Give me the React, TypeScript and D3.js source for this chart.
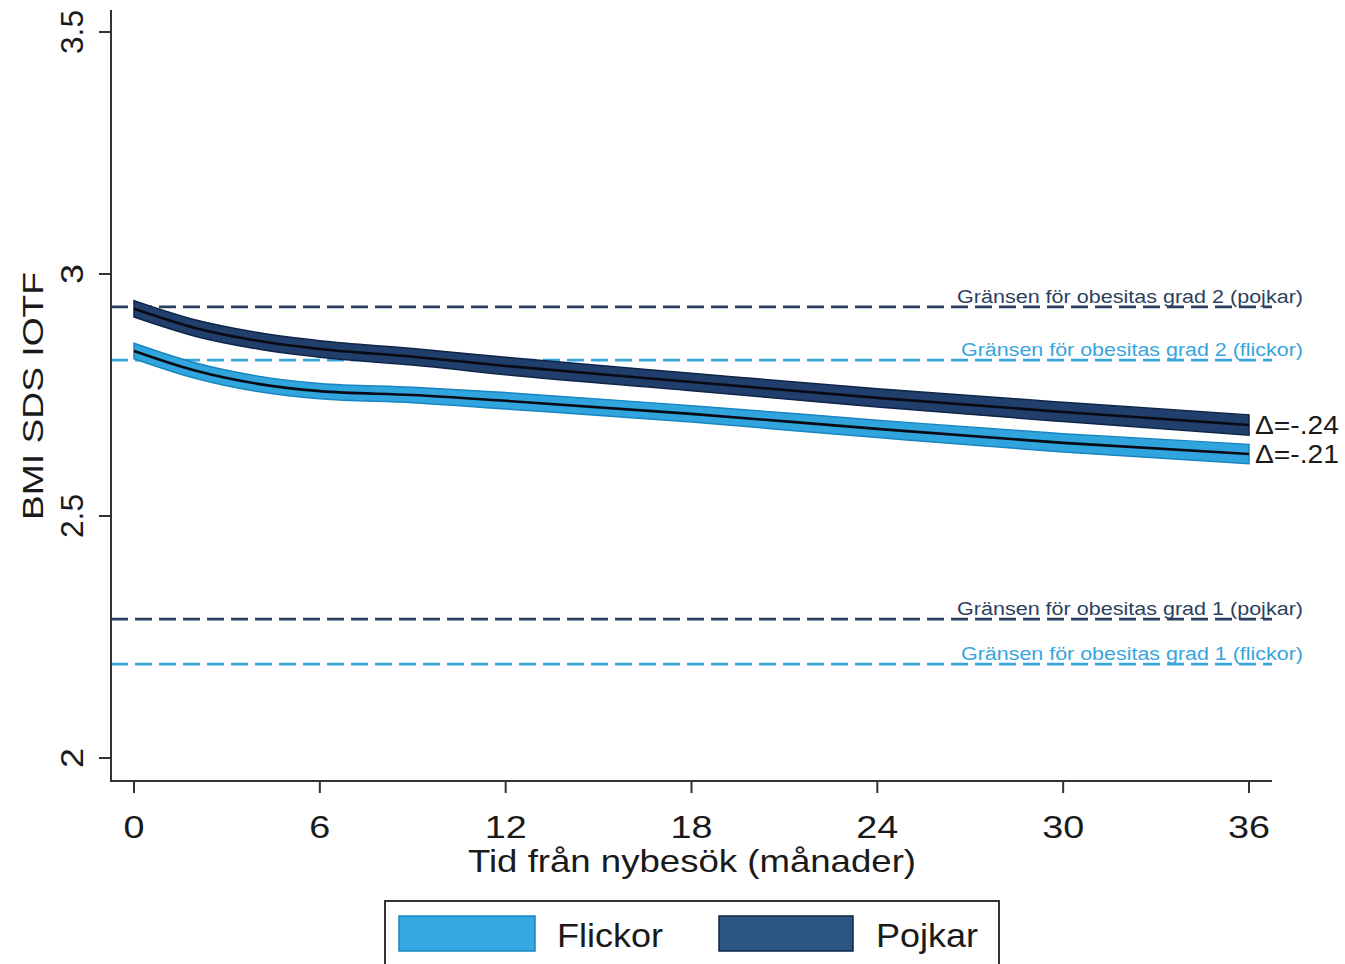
import React from 'react';
import * as d3 from 'd3';

// months since first visit
const months = [0, 2, 4, 6, 9, 12, 18, 24, 30, 36];
// BMI SDS, mean estimates
const boys = [2.928, 2.888, 2.862, 2.845, 2.829, 2.81, 2.777, 2.744, 2.715, 2.688];
const girls = [2.841, 2.8, 2.773, 2.758, 2.75, 2.738, 2.711, 2.68, 2.651, 2.628];
const boysHalfCI = [0.017, 0.017, 0.017, 0.017, 0.017, 0.018, 0.018, 0.019, 0.02, 0.021];
const girlsHalfCI = [0.016, 0.016, 0.016, 0.016, 0.016, 0.017, 0.017, 0.018, 0.019, 0.02];

const xTicks = [0, 6, 12, 18, 24, 30, 36];
const yTicks = [2, 2.5, 3, 3.5];

const cutoffs = [
  { label: 'Gränsen för obesitas grad 2 (pojkar)', value: 2.932, group: 'boys' },
  { label: 'Gränsen för obesitas grad 2 (flickor)', value: 2.822, group: 'girls' },
  { label: 'Gränsen för obesitas grad 1 (pojkar)', value: 2.287, group: 'boys' },
  { label: 'Gränsen för obesitas grad 1 (flickor)', value: 2.194, group: 'girls' },
];

const deltas = [
  { text: 'Δ=-.24', group: 'boys' },
  { text: 'Δ=-.21', group: 'girls' },
];

const colors = {
  boys: { fill: '#213f6c', edge: '#0f2448', dash: '#2b3f5e', legend: '#2d5583' },
  girls: { fill: '#2fa4dd', edge: '#1a86c0', dash: '#38a5dc', legend: '#35a7e1' },
};

const W = 1345;
const H = 964;
const font = '"Liberation Sans", Arial, sans-serif';
const ink = '#1a1a1a';

export default function App() {
  const x = d3.scaleLinear().domain([0, 36]).range([134, 1249]);
  const y = d3.scaleLinear().domain([2, 3.5]).range([758, 32]);

  const series = [
    { key: 'girls', mean: girls, half: girlsHalfCI },
    { key: 'boys', mean: boys, half: boysHalfCI },
  ] as const;

  const area = d3
    .area<number>()
    .x((_, i) => x(months[i]))
    .curve(d3.curveMonotoneX);

  const line = d3
    .line<number>()
    .x((_, i) => x(months[i]))
    .y((d) => y(d))
    .curve(d3.curveMonotoneX);

  const endY = (key: 'boys' | 'girls') => y((key === 'boys' ? boys : girls)[months.length - 1]);

  return (
    <svg
      width={W}
      height={H}
      style={{ position: 'absolute', left: 0, top: 0, background: '#fff' }}
      fontFamily={font}
    >
      <rect x={0} y={0} width={W} height={H} fill="#fff" />

      {/* cutoff lines */}
      {cutoffs.map((c) => (
        <line
          key={c.label}
          x1={111}
          x2={1272}
          y1={y(c.value)}
          y2={y(c.value)}
          stroke={colors[c.group as 'boys' | 'girls'].dash}
          strokeWidth={2.6}
          strokeDasharray="17,7"
        />
      ))}

      {/* confidence bands and mean lines */}
      {series.map((s) => {
        const c = colors[s.key];
        const a = area
          .y0((d, i) => y(d - s.half[i]))
          .y1((d, i) => y(d + s.half[i]));
        return (
          <g key={s.key}>
            <path d={a(s.mean) ?? ''} fill={c.fill} stroke={c.edge} strokeWidth={1.5} />
            <path d={line(s.mean) ?? ''} fill="none" stroke="#0a0a14" strokeWidth={2.6} />
          </g>
        );
      })}

      {/* cutoff labels */}
      {cutoffs.map((c) => (
        <text
          key={'t' + c.label}
          x={1303}
          y={y(c.value) - 4}
          textAnchor="end"
          fontSize={18}
          textLength={c.group === 'boys' ? 346 : 342}
          lengthAdjust="spacingAndGlyphs"
          fill={colors[c.group as 'boys' | 'girls'].dash}
        >
          {c.label}
        </text>
      ))}

      {/* delta labels */}
      {deltas.map((d) => (
        <text
          key={d.text}
          x={1255}
          y={endY(d.group as 'boys' | 'girls')}
          dy="0.36em"
          fontSize={25}
          textLength={84}
          lengthAdjust="spacingAndGlyphs"
          fill={ink}
        >
          {d.text}
        </text>
      ))}

      {/* y axis */}
      <line x1={111} x2={111} y1={10} y2={782} stroke="#333" strokeWidth={2} />
      {yTicks.map((t) => (
        <g key={t} transform={`translate(0,${y(t)})`}>
          <line x1={99} x2={111} stroke="#333" strokeWidth={2} />
          <text
            transform="translate(83,0) rotate(-90)"
            textAnchor="middle"
            fontSize={31}
            textLength={Number.isInteger(t) ? 20 : 44}
            lengthAdjust="spacingAndGlyphs"
            fill={ink}
          >
            {d3.format('~g')(t)}
          </text>
        </g>
      ))}
      <text
        transform={`translate(43,396) rotate(-90)`}
        textAnchor="middle"
        fontSize={29}
        textLength={248}
        lengthAdjust="spacingAndGlyphs"
        fill={ink}
      >
        BMI SDS IOTF
      </text>

      {/* x axis */}
      <line x1={110} x2={1272} y1={781} y2={781} stroke="#333" strokeWidth={2} />
      {xTicks.map((t) => (
        <g key={t} transform={`translate(${x(t)},0)`}>
          <line y1={781} y2={793} stroke="#333" strokeWidth={2} />
          <text
            y={838}
            textAnchor="middle"
            fontSize={32}
            textLength={t < 10 ? 21 : 42}
            lengthAdjust="spacingAndGlyphs"
            fill={ink}
          >
            {t}
          </text>
        </g>
      ))}
      <text
        x={692}
        y={872}
        textAnchor="middle"
        fontSize={32}
        textLength={448}
        lengthAdjust="spacingAndGlyphs"
        fill={ink}
      >
        Tid från nybesök (månader)
      </text>

      {/* legend */}
      <rect x={385} y={901} width={614} height={80} fill="#fff" stroke="#333" strokeWidth={2} />
      <rect x={399} y={916} width={136} height={35} fill={colors.girls.legend} stroke={colors.girls.edge} strokeWidth={1.5} />
      <text x={557} y={947} fontSize={34} textLength={106} lengthAdjust="spacingAndGlyphs" fill={ink}>
        Flickor
      </text>
      <rect x={719} y={916} width={134} height={35} fill={colors.boys.legend} stroke={colors.boys.edge} strokeWidth={1.5} />
      <text x={876} y={947} fontSize={34} textLength={102} lengthAdjust="spacingAndGlyphs" fill={ink}>
        Pojkar
      </text>
    </svg>
  );
}
